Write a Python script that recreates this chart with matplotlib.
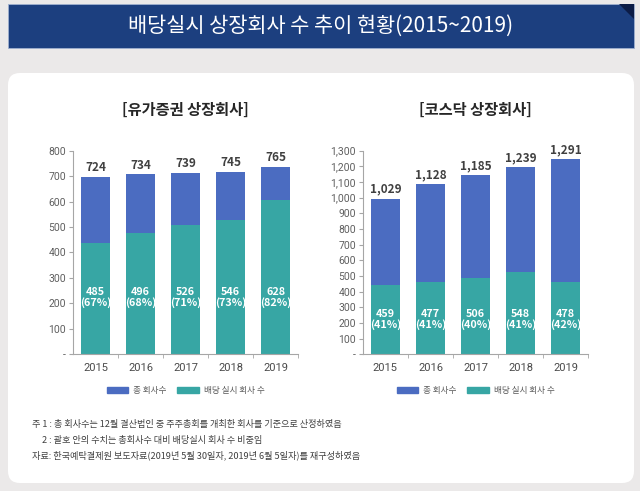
import matplotlib
matplotlib.use("Agg")
import matplotlib.pyplot as plt
import matplotlib.patches as mpatches
from matplotlib.ticker import FuncFormatter, FixedLocator

# data
years = ["2015", "2016", "2017", "2018", "2019"]

# 유가증권 (drawn heights as they appear, labels as printed)
kospi_total = [698, 707, 712, 718, 737]
kospi_div = [437, 478, 507, 526, 605]
kospi_total_lbl = ["724", "734", "739", "745", "765"]
kospi_div_lbl = ["485\n(67%)", "496\n(68%)", "526\n(71%)", "546\n(73%)", "628\n(82%)"]

# 코스닥
kosdaq_total = [994, 1087, 1143, 1194, 1245]
kosdaq_div = [442, 461, 487, 527, 461]
kosdaq_total_lbl = ["1,029", "1,128", "1,185", "1,239", "1,291"]
kosdaq_div_lbl = ["459\n(41%)", "477\n(41%)", "506\n(40%)", "548\n(41%)", "478\n(42%)"]

legend_labels = ["총 회사수", "배당 실시 회사 수"]
notes = ["주 1 : 총 회사수는 12월 결산법인 중 주주총회를 개최한 회사를 기준으로 산정하였음",
         "2 : 괄호 안의 수치는 총회사수 대비 배당실시 회사 수 비중임",
         "자료: 한국예탁결제원 보도자료(2019년 5월 30일자, 2019년 6월 5일자)를 재구성하였음"]

BLUE = "#4b6cc1"
TEAL = "#37a6a4"
KR = ["Noto Sans CJK KR", "DejaVu Sans"]
NARROW = ["Liberation Sans Narrow", "Roboto", "DejaVu Sans"]

plt.rcParams["font.family"] = KR

W, H = 640, 491
fig = plt.figure(figsize=(W / 100, H / 100), dpi=100, facecolor="#ebe9e9")

# background: banner + white panel, in pixel units
bg = fig.add_axes([0, 0, 1, 1], zorder=-5)
bg.set_xlim(0, W)
bg.set_ylim(H, 0)
bg.axis("off")
bg.add_patch(mpatches.Rectangle((8, 4), 626, 44, fc="#1c3f7f", ec="#9fb0cf", lw=0.6))
bg.add_patch(mpatches.Polygon([(619, 4), (634, 4), (634, 19)], fc="#0c1c46", ec="none"))
bg.add_patch(mpatches.FancyBboxPatch((8, 73), 626, 410,
                                     boxstyle="round,pad=0,rounding_size=12",
                                     fc="white", ec="none"))
bg.text(321, 26, "배당실시 상장회사 수 추이 현황(2015~2019)", color="white",
        fontsize=15, ha="center", va="center")

for i, line in enumerate(notes):
    x = 41.7 if line.startswith("2") else 31.7
    bg.text(x, 425 + i * 15, line, fontsize=6.6, color="#404040", ha="left", va="center")


def draw_panel(rect, title, total, div, total_lbl, div_lbl, ymax, step, lbl_y):
    ax = fig.add_axes(rect)
    x = range(len(years))
    ax.bar(x, div, width=0.655, color=TEAL, zorder=2)
    ax.bar(x, [t - d for t, d in zip(total, div)], bottom=div, width=0.655,
           color=BLUE, zorder=2)
    for i in x:
        ax.annotate(total_lbl[i], (i, total[i]), xytext=(0, 2), textcoords="offset points",
                    ha="center", va="bottom", fontsize=8.5, fontweight="bold", color="#404040")
        ax.text(i, lbl_y, div_lbl[i], ha="center", va="center", fontsize=7.8,
                fontweight="bold", color="white", linespacing=1.05, zorder=3)
    ax.set_xlim(-0.5, len(years) - 0.5)
    ax.set_ylim(0, ymax)
    ax.set_yticks(range(0, ymax + 1, step))
    ax.yaxis.set_major_formatter(FuncFormatter(lambda v, p: "-" if v == 0 else f"{int(v):,}"))
    ax.set_xticks(list(x))
    ax.set_xticklabels(years)
    ax.xaxis.set_minor_locator(FixedLocator([i + 0.5 for i in range(len(years))]))
    ax.tick_params(axis="x", which="major", length=0, pad=6, labelsize=8, labelcolor="#4a4a4a")
    ax.tick_params(axis="x", which="minor", length=3, color="#a6a6a6")
    ax.tick_params(axis="y", length=3, color="#a6a6a6", labelsize=7.5,
                   labelcolor="#5f5f5f", pad=2)
    for lab in ax.get_xticklabels() + ax.get_yticklabels():
        lab.set_family(NARROW)
    for s in ["top", "right"]:
        ax.spines[s].set_visible(False)
    for s in ["left", "bottom"]:
        ax.spines[s].set_color("#a6a6a6")
        ax.spines[s].set_linewidth(0.8)
    ax.set_title(title, fontsize=11, fontweight="bold", color="#262626", pad=26)
    handles = [mpatches.Patch(color=BLUE), mpatches.Patch(color=TEAL)]
    ax.legend(handles, legend_labels, loc="center", bbox_to_anchor=(0.5, -0.18), ncol=2,
              frameon=False, fontsize=6.2, labelcolor="#595959", handlelength=2.5,
              handleheight=0.7, handletextpad=0.6, columnspacing=1.2)
    return ax


draw_panel([0.114, 0.2784, 0.352, 0.4147], "[유가증권 상장회사]",
           kospi_total, kospi_div, kospi_total_lbl, kospi_div_lbl, 800, 100, 222)
draw_panel([0.567, 0.2784, 0.352, 0.4147], "[코스닥 상장회사]",
           kosdaq_total, kosdaq_div, kosdaq_total_lbl, kosdaq_div_lbl, 1300, 100, 222)

fig.savefig("out.png", dpi=100, facecolor=fig.get_facecolor())
